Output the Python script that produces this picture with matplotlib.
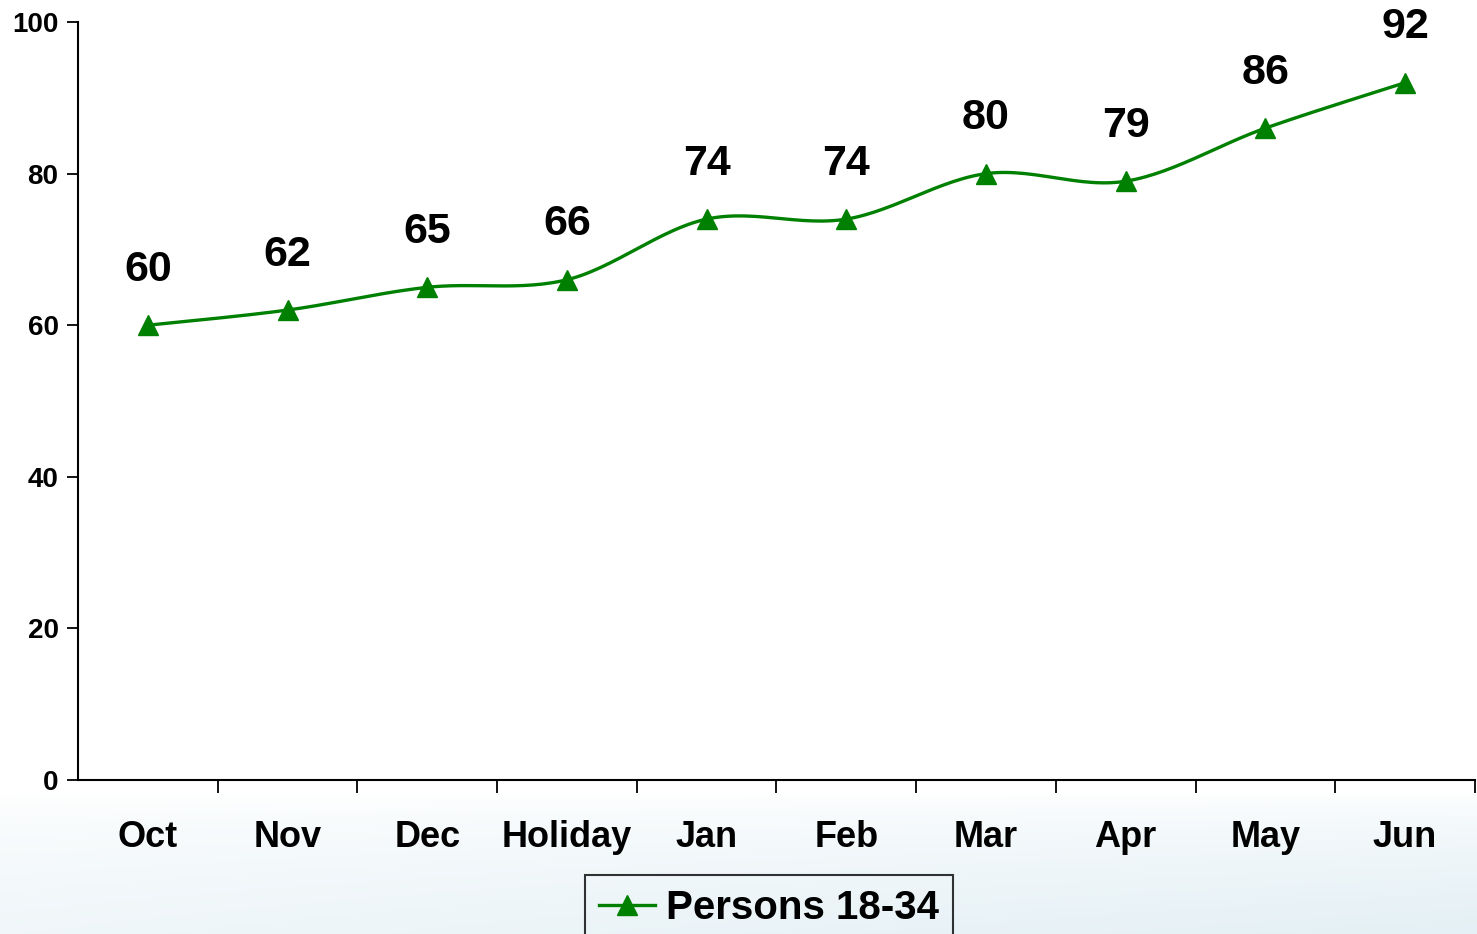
import numpy as np
import matplotlib.pyplot as plt
from matplotlib.colors import LinearSegmentedColormap

plt.rcParams['font.family'] = ['Liberation Sans', 'DejaVu Sans']
plt.rcParams['font.weight'] = 'bold'

months = ['Oct', 'Nov', 'Dec', 'Holiday', 'Jan', 'Feb', 'Mar', 'Apr', 'May', 'Jun']
persons_18_34 = [60, 62, 65, 66, 74, 74, 80, 79, 86, 92]
series_name = 'Persons 18-34'
GREEN = '#008000'


def smooth(y, steps=30):
    """Excel-style smoothed line (Catmull-Rom through every point)."""
    y = np.asarray(y, dtype=float)
    x = np.arange(len(y), dtype=float)
    p = np.column_stack([x, y])
    p = np.vstack([p[0], p, p[-1]])
    out = []
    t = np.linspace(0, 1, steps)[:, None]
    for i in range(1, len(p) - 2):
        p0, p1, p2, p3 = p[i - 1], p[i], p[i + 1], p[i + 2]
        c1 = p1 + (p2 - p0) / 6
        c2 = p2 - (p3 - p1) / 6
        seg = ((1 - t) ** 3) * p1 + 3 * ((1 - t) ** 2) * t * c1 + 3 * (1 - t) * t ** 2 * c2 + t ** 3 * p2
        out.append(seg if i == 1 else seg[1:])
    out = np.vstack(out)
    return out[:, 0], out[:, 1]


fig = plt.figure(figsize=(14.77, 9.34), dpi=100)

# faint pale-blue backdrop at the bottom of the slide
bg = fig.add_axes([0, 0, 1, 0.15], zorder=-10)
rows = np.linspace(0, 1, 100)[:, None] ** 0.6
cols = 0.55 + 0.45 * np.linspace(0, 1, 200)[None, :]
bg.imshow(rows * cols, aspect='auto', origin='upper', extent=[0, 1, 0, 1],
          cmap=LinearSegmentedColormap.from_list('bgc', ['#ffffff', '#e4f0f5']),
          vmin=0, vmax=1)
bg.axis('off')

ax = fig.add_axes([0.0528, 0.1649, 0.9458, 0.8115])
ax.patch.set_alpha(0)

xs, ys = smooth(persons_18_34)
ax.plot(xs, ys, color=GREEN, lw=2.4, solid_capstyle='round')
ax.plot(range(len(months)), persons_18_34, ls='none', marker='^', ms=14,
        color=GREEN, mec=GREEN)

for i, v in enumerate(persons_18_34):
    ax.annotate(str(v), (i, v), xytext=(0, 40), textcoords='offset points',
                ha='center', va='center', fontsize=31, fontweight='bold')

ax.set_xlim(-0.5, len(months) - 0.5)
ax.set_ylim(0, 100)
ax.set_yticks(range(0, 101, 20))
ax.tick_params(axis='y', labelsize=20, length=8, width=1.3, pad=6)
ax.set_xticks(range(len(months)))
ax.set_xticklabels(months)
ax.tick_params(axis='x', which='major', length=0, labelsize=26, pad=29)
ax.set_xticks(np.arange(0.5, len(months), 1), minor=True)
ax.tick_params(axis='x', which='minor', length=9, width=1.3, direction='out')

for s in ['top', 'right']:
    ax.spines[s].set_visible(False)
for s in ['left', 'bottom']:
    ax.spines[s].set_linewidth(1.5)

handle = plt.Line2D([], [], color=GREEN, lw=2.4, marker='^', ms=14)
leg = fig.legend([handle], [series_name], loc='upper left',
                 bbox_to_anchor=(585 / 1477, 1 - 875 / 934),
                 prop={'size': 29, 'weight': 'bold'}, frameon=True,
                 fancybox=False, edgecolor='black', handlelength=1.4,
                 handletextpad=0.25, borderpad=0.35, borderaxespad=0)
leg.get_frame().set_linewidth(1.5)
leg.get_frame().set_facecolor('none')

fig.savefig('out.png', dpi=100)
